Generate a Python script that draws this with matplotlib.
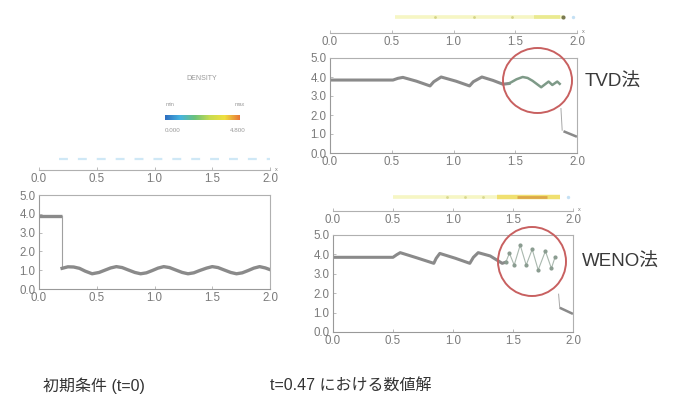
import matplotlib
matplotlib.use("Agg")
import matplotlib.pyplot as plt
from matplotlib.patches import Ellipse
from matplotlib.colors import LinearSegmentedColormap
import numpy as np

plt.rcParams['font.family'] = ['Liberation Sans', 'Noto Sans CJK JP', 'DejaVu Sans']

W, H = 685, 407

# ---------------- data ----------------
x_ticks = [0.0, 0.5, 1.0, 1.5, 2.0]
x_ticklabels = ["0.0", "0.5", "1.0", "1.5", "2.0"]
y_ticks = [0.0, 1.0, 2.0, 3.0, 4.0, 5.0]
y_ticklabels = ["0.0", "1.0", "2.0", "3.0", "4.0", "5.0"]

# initial condition (t=0)
init_left_x = [0.0, 0.20]
init_left_y = [3.86, 3.86]
init_wave_x = [0.20, 0.25, 0.30, 0.35, 0.40, 0.46, 0.52, 0.57, 0.62, 0.67, 0.72, 0.77,
               0.83, 0.88, 0.93, 0.98, 1.03, 1.08, 1.13, 1.18, 1.24, 1.29, 1.34, 1.39,
               1.45, 1.50, 1.55, 1.60, 1.66, 1.71, 1.76, 1.81, 1.86, 1.91, 1.96, 2.00]
init_wave_y = [1.10, 1.18, 1.17, 1.10, 0.95, 0.81, 0.88, 1.00, 1.12, 1.19, 1.14, 1.02,
               0.88, 0.81, 0.86, 0.98, 1.11, 1.19, 1.14, 1.02, 0.88, 0.81, 0.86, 0.98,
               1.11, 1.19, 1.14, 1.02, 0.88, 0.81, 0.86, 0.98, 1.11, 1.19, 1.12, 1.03]

# TVD solution at t=0.47
tvd_x = [0.0, 0.51, 0.55, 0.59, 0.70, 0.81, 0.84, 0.90, 1.02, 1.13, 1.16, 1.23,
         1.32, 1.40, 1.45]
tvd_y = [3.84, 3.84, 3.93, 3.98, 3.78, 3.53, 3.75, 4.00, 3.78, 3.53, 3.75, 4.00,
         3.82, 3.62, 3.66]
tvd_osc_x = [1.45, 1.51, 1.56, 1.60, 1.64, 1.71, 1.77, 1.80, 1.84, 1.86]
tvd_osc_y = [3.66, 3.88, 4.00, 3.95, 3.80, 3.46, 3.76, 3.58, 3.76, 3.64]
tvd_post_x = [1.90, 1.99]
tvd_post_y = [1.12, 0.88]

# WENO solution at t=0.47
weno_x = [0.0, 0.50, 0.53, 0.56, 0.70, 0.84, 0.86, 0.89, 1.02, 1.14, 1.17, 1.21,
          1.31, 1.41, 1.44]
weno_y = [3.85, 3.85, 3.98, 4.09, 3.82, 3.54, 3.80, 4.05, 3.80, 3.54, 3.85, 4.09,
          3.92, 3.54, 3.60]
weno_osc_x = [1.44, 1.47, 1.51, 1.56, 1.61, 1.66, 1.71, 1.77, 1.82, 1.85]
weno_osc_y = [3.60, 4.06, 3.45, 4.48, 3.45, 4.26, 3.20, 4.17, 3.28, 3.85]
weno_post_x = [1.90, 1.99]
weno_post_y = [1.22, 0.96]

# 1-D colour strips above each plot
left_strip_x = [0.17, 2.0]
tvd_strip_base = [0.53, 1.89]
tvd_strip_strong = [1.65, 1.86]
tvd_strip_dots = [0.85, 1.17, 1.47, 1.89]
tvd_strip_blue = [1.97]
weno_strip_base = [0.50, 1.89]
weno_strip_strong = [1.37, 1.89]
weno_strip_core = [1.53, 1.78]
weno_strip_dots = [0.95, 1.10, 1.25]
weno_strip_blue = [1.96]

cbar_labels = ["0.000", "4.800"]

GREY = "#8a8a8a"
TICK = "#7a7a7a"
SPINE = "#b0b0b0"


def fx(px):
    return px / W


def fy(py):
    return 1 - py / H


def box_axes(x0, x1, ytop, ybot):
    ax = fig.add_axes([fx(x0), fy(ybot), (x1 - x0) / W, (ybot - ytop) / H])
    ax.set_xlim(0, 2)
    ax.set_ylim(0, 5)
    ax.set_xticks(x_ticks)
    ax.set_xticklabels(x_ticklabels)
    ax.set_yticks(y_ticks)
    ax.set_yticklabels(y_ticklabels)
    ax.tick_params(direction='in', length=2, width=0.6, colors=SPINE,
                   labelcolor=TICK, labelsize=8.3, pad=2.5)
    for s in ax.spines.values():
        s.set_color(SPINE)
        s.set_linewidth(0.8)
    ax.spines['left'].set_color("#999999")
    ax.spines['bottom'].set_color("#999999")
    return ax


def top_axes(x0, x1, yline, ystrip):
    top = ystrip - 8
    ax = fig.add_axes([fx(x0), fy(yline), (x1 - x0) / W, (yline - top) / H])
    ax.set_xlim(0, 2)
    ax.set_ylim(0, 1)
    ax.patch.set_alpha(0)
    for k in ['top', 'left', 'right']:
        ax.spines[k].set_visible(False)
    ax.spines['bottom'].set_color(SPINE)
    ax.spines['bottom'].set_linewidth(0.8)
    ax.set_yticks([])
    ax.set_xticks(x_ticks)
    ax.set_xticklabels(x_ticklabels)
    ax.tick_params(direction='in', length=2.5, width=0.6, colors=SPINE,
                   labelcolor=TICK, labelsize=8.3, pad=2.5)
    ax.text(2.04, 0.05, "x", fontsize=4, color=TICK, ha='left', va='center',
            transform=ax.transData)
    sy = (yline - ystrip) / (yline - top)
    return ax, sy


fig = plt.figure(figsize=(6.85, 4.07), dpi=100)

# ---------------- left: initial condition ----------------
axL = box_axes(39, 270, 195, 289)
axL.plot(init_left_x, init_left_y, color=GREY, lw=2.4, solid_capstyle='butt')
axL.plot([init_left_x[-1], init_wave_x[0]], [init_left_y[-1], init_wave_y[0]],
         color="#a0a0a0", lw=0.8)
axL.plot(init_wave_x, init_wave_y, color=GREY, lw=2.4, solid_joinstyle='round')

tL, syL = top_axes(39, 270, 170, 159)
tL.plot(left_strip_x, [syL, syL], color="#cfe8f6", lw=1.6, dashes=(4.0, 4.5))

# colour bar legend
cmap = LinearSegmentedColormap.from_list(
    "dens", ["#2f6fc0", "#46b4e0", "#6cc27a", "#c8dc50", "#f0e040", "#e87838"])
cax = fig.add_axes([fx(165), fy(120), 75 / W, 5 / H])
cax.imshow(np.linspace(0, 1, 100)[None, :], aspect='auto', cmap=cmap,
           extent=[0, 1, 0, 1])
cax.set_axis_off()
fig.text(fx(202), fy(79), "DENSITY", fontsize=5, color="#999999", ha='center', va='center')
fig.text(fx(170), fy(104), "min", fontsize=4, color="#999999", ha='center', va='center')
fig.text(fx(240), fy(104), "max", fontsize=4, color="#999999", ha='center', va='center')
fig.text(fx(173), fy(130), cbar_labels[0], fontsize=4.5, color="#999999", ha='center', va='center')
fig.text(fx(238), fy(130), cbar_labels[1], fontsize=4.5, color="#999999", ha='center', va='center')

# ---------------- top right: TVD ----------------
axT = box_axes(330, 577, 58, 153)
axT.plot(tvd_x, tvd_y, color=GREY, lw=2.2, solid_joinstyle='round')
axT.plot(tvd_osc_x, tvd_osc_y, color="#7e9a88", lw=1.8, solid_joinstyle='round')
axT.plot([tvd_osc_x[-1] + 0.01, tvd_post_x[0] - 0.02],
         [tvd_osc_y[-1] - 1.3, tvd_post_y[0] + 0.08], color="#a8a8a8", lw=0.7)
axT.plot(tvd_post_x, tvd_post_y, color=GREY, lw=1.8)

tT, syT = top_axes(330, 577, 33, 17)
tT.plot(tvd_strip_base, [syT, syT], color="#f6f6c4", lw=2.6, solid_capstyle='butt')
tT.plot(tvd_strip_strong, [syT, syT], color="#eaea90", lw=2.6, solid_capstyle='butt')
tT.scatter(tvd_strip_dots[:-1], [syT] * 3, s=4, color="#d4d488", zorder=3, lw=0)
tT.scatter(tvd_strip_dots[-1:], [syT], s=9, color="#7a7a50", zorder=3, lw=0)
tT.scatter(tvd_strip_blue, [syT], s=6, color="#c4e0f4", zorder=3, lw=0)

# ---------------- bottom right: WENO ----------------
axW = box_axes(333, 573, 235, 332)
axW.plot(weno_x, weno_y, color=GREY, lw=2.2, solid_joinstyle='round')
axW.plot(weno_osc_x, weno_osc_y, color="#a9b8ae", lw=0.8, marker='o', ms=2.0,
         mfc="#8a9c90", mec="#8a9c90")
axW.plot([weno_osc_x[-1] + 0.03, weno_post_x[0] - 0.01],
         [weno_osc_y[-1] - 1.9, weno_post_y[0]], color="#a8a8a8", lw=0.7)
axW.plot(weno_post_x, weno_post_y, color=GREY, lw=1.8)

tW, syW = top_axes(333, 573, 211, 197)
tW.plot(weno_strip_base, [syW, syW], color="#f6f6c4", lw=2.6, solid_capstyle='butt')
tW.plot(weno_strip_strong, [syW, syW], color="#f0e070", lw=3.2, solid_capstyle='butt')
tW.plot(weno_strip_core, [syW, syW], color="#dca848", lw=2.0, solid_capstyle='butt')
tW.scatter(weno_strip_dots, [syW] * 3, s=4, color="#d8d890", zorder=3, lw=0)
tW.scatter(weno_strip_blue, [syW], s=6, color="#c4e0f4", zorder=3, lw=0)

# ---------------- circles and labels ----------------
fig.add_artist(Ellipse((fx(537.5), fy(80.5)), 69 / W, 65 / H, transform=fig.transFigure,
                       fill=False, ec="#c86060", lw=1.4))
fig.add_artist(Ellipse((fx(532), fy(261.5)), 68 / W, 69 / H, transform=fig.transFigure,
                       fill=False, ec="#c86060", lw=1.4))

fig.text(fx(585), fy(82), "TVD法", fontsize=13.5, color="#3a3a3a", ha='left', va='center')
fig.text(fx(582), fy(262), "WENO法", fontsize=13.5, color="#3a3a3a", ha='left', va='center')
fig.text(fx(43), fy(386), "初期条件 (t=0)", fontsize=11.5, color="#333333", ha='left', va='center')
fig.text(fx(270), fy(386), "t=0.47 における数値解", fontsize=11.5, color="#333333",
         ha='left', va='center')

fig.savefig("out.png", dpi=100, facecolor="white")
